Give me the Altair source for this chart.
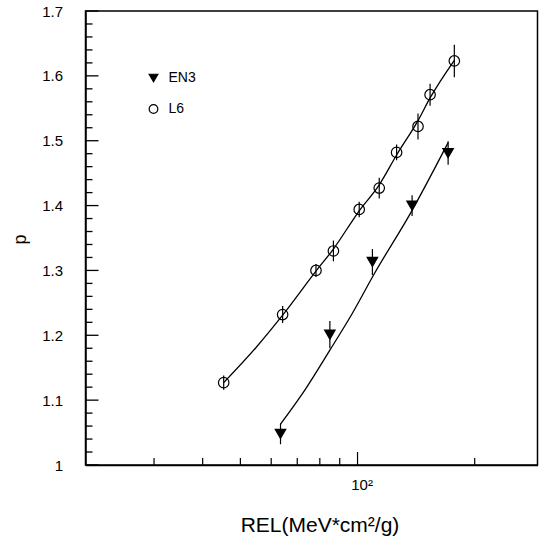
import altair as alt
import pandas as pd

# ---- data ----
l6_x = [45.3, 64.2, 78.2, 86.7, 101.0, 113.7, 126.0, 143.0, 153.6, 177.3]
l6_y = [1.127, 1.232, 1.300, 1.330, 1.394, 1.427, 1.482, 1.522, 1.571, 1.623]
l6_err = [0.011, 0.013, 0.010, 0.016, 0.012, 0.016, 0.012, 0.020, 0.017, 0.025]

en3_x = [63.4, 84.9, 109.2, 138.1, 170.9]
en3_y = [1.048, 1.201, 1.313, 1.400, 1.481]
en3_err = [0.016, 0.021, 0.020, 0.016, 0.018]

l6_fit_x = [45.3, 55.0, 64.2, 78.2, 86.7, 101.0, 113.7, 126.0, 143.0, 153.6, 177.3]
l6_fit_y = [1.127, 1.182, 1.231, 1.299, 1.333, 1.392, 1.432, 1.478, 1.531, 1.566, 1.624]
en3_fit_x = [63.4, 73.5, 84.9, 97.0, 110.7, 137.3, 170.9]
en3_fit_y = [1.063, 1.117, 1.177, 1.234, 1.296, 1.390, 1.497]

series_names = ["EN3", "L6"]
x_tick_labels_at = [100]
x_minor_ticks = [30, 40, 50, 60, 70, 80, 90, 200]
x_major_ticks = [100]
y_major_ticks = [1.0, 1.1, 1.2, 1.3, 1.4, 1.5, 1.6, 1.7]
y_minor_ticks = [1.02, 1.04, 1.06, 1.08, 1.12, 1.14, 1.16, 1.18, 1.22, 1.24, 1.26, 1.28,
                 1.32, 1.34, 1.36, 1.38, 1.42, 1.44, 1.46, 1.48, 1.52, 1.54, 1.56, 1.58,
                 1.62, 1.64, 1.66, 1.68]
x_min, x_max = 20, 290
y_min, y_max = 1.0, 1.7

W, H = 452, 454
FONT = "Liberation Sans"
MAJOR_LEN, MINOR_LEN = 13, 7  # tick lengths in pixels

pts = pd.DataFrame(
    [{"series": "EN3", "x": a, "y": b, "lo": b - e, "hi": b + e} for a, b, e in zip(en3_x, en3_y, en3_err)]
    + [{"series": "L6", "x": a, "y": b, "lo": b - e, "hi": b + e} for a, b, e in zip(l6_x, l6_y, l6_err)]
)
fits = pd.DataFrame(
    [{"series": "EN3", "x": a, "y": b, "o": i} for i, (a, b) in enumerate(zip(en3_fit_x, en3_fit_y))]
    + [{"series": "L6", "x": a, "y": b, "o": i} for i, (a, b) in enumerate(zip(l6_fit_x, l6_fit_y))]
)
yt = pd.DataFrame(
    [{"yt": v, "len": MAJOR_LEN} for v in y_major_ticks]
    + [{"yt": v, "len": MINOR_LEN} for v in y_minor_ticks]
)

xscale = alt.Scale(type="log", domain=[x_min, x_max], nice=False)
yscale = alt.Scale(domain=[y_min, y_max], nice=False, zero=False)

xenc = alt.X("x:Q", scale=xscale,
             axis=alt.Axis(values=x_tick_labels_at, labelExpr="'10²'", ticks=False, grid=False,
                           labelFontSize=15, labelPadding=12, labelOffset=4,
                           title="REL(MeV*cm²/g)", titleFontSize=21, titleFontWeight="normal",
                           titleX=234, titleY=66, titleBaseline="alphabetic"))
yenc = alt.Y("y:Q", scale=yscale,
             axis=alt.Axis(values=y_major_ticks, format=".1~f", ticks=False, grid=False,
                           labelFontSize=15, labelPadding=23,
                           title="p", titleFontSize=18, titleFontWeight="normal",
                           titleX=-60, titleY=228, titleBaseline="alphabetic"))

lines = alt.Chart(fits).mark_line(color="black", strokeWidth=1.3, interpolate="monotone").encode(
    x=xenc, y=yenc, detail="series:N", order="o:Q")

bars = alt.Chart(pts).mark_rule(color="black", strokeWidth=1.2).encode(
    x=alt.X("x:Q", scale=xscale), y=alt.Y("lo:Q", scale=yscale), y2="hi:Q")

legend_cfg = alt.Legend(title=None)
points = alt.Chart(pts).mark_point(strokeWidth=1.2, opacity=1, size=110).encode(
    x=alt.X("x:Q", scale=xscale), y=alt.Y("y:Q", scale=yscale),
    shape=alt.Shape("series:N", scale=alt.Scale(domain=series_names, range=["triangle-down", "circle"]),
                    legend=legend_cfg),
    fill=alt.Fill("series:N", scale=alt.Scale(domain=series_names, range=["black", "transparent"]),
                  legend=legend_cfg),
    stroke=alt.Stroke("series:N", scale=alt.Scale(domain=series_names, range=["black", "black"]),
                      legend=legend_cfg),
)

xminor = alt.Chart(pd.DataFrame({"xt": x_minor_ticks})).mark_rule(color="black", strokeWidth=1.2).encode(
    x=alt.X("xt:Q", scale=xscale), y=alt.value(H), y2=alt.value(H - MINOR_LEN))
xmajor = alt.Chart(pd.DataFrame({"xt": x_major_ticks})).mark_rule(color="black", strokeWidth=1.2).encode(
    x=alt.X("xt:Q", scale=xscale), y=alt.value(H), y2=alt.value(H - MAJOR_LEN))
# inward y ticks as thin rectangles (bars) starting at the left edge
yticks = alt.Chart(yt).mark_rect(color="black", height=1.3).encode(
    y=alt.Y("yt:Q", scale=yscale), x=alt.value(0), x2=alt.X2("len:Q"))

chart = alt.layer(lines, bars, points, xminor, xmajor,
                  alt.Chart(yt).mark_rule(color="black", strokeWidth=1.3).encode(
                      y=alt.Y("yt:Q", scale=yscale),
                      x=alt.value(0.0001),
                      x2=alt.value(MAJOR_LEN)).transform_filter(alt.datum.len == MAJOR_LEN),
                  alt.Chart(yt).mark_rule(color="black", strokeWidth=1.3).encode(
                      y=alt.Y("yt:Q", scale=yscale),
                      x=alt.value(0.0001),
                      x2=alt.value(MINOR_LEN)).transform_filter(alt.datum.len == MINOR_LEN),
                  ).properties(
    width=W, height=H,
    autosize=alt.AutoSizeParams(type="none"),
    padding={"left": 85.5, "top": 11, "right": 4.5, "bottom": 74},
    background="white",
).configure_view(
    stroke="black", strokeWidth=1.5
).configure_axis(
    domainColor="black", domainWidth=1.5, labelColor="black", titleColor="black",
    labelFont=FONT, titleFont=FONT,
).configure_legend(
    orient="none", legendX=61, legendY=60, padding=0,
    symbolSize=75, symbolStrokeColor="black", symbolStrokeWidth=1.2,
    labelFont=FONT, labelFontSize=14, labelColor="black", labelOffset=8,
    rowPadding=17,
)

chart.save("out.html", embed_options={"renderer": "svg", "actions": False})
